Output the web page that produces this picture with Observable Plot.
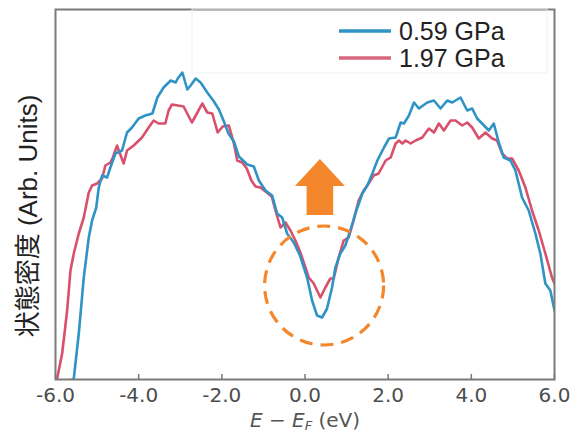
<!DOCTYPE html>
<html><head><meta charset="utf-8">
<script src="https://cdn.jsdelivr.net/npm/d3@7"></script>
<script src="https://cdn.jsdelivr.net/npm/@observablehq/plot@0.6"></script>
<style>body{margin:0;background:#fff}#chart{width:575px;height:433px}</style>
</head><body><div id="chart"></div>
<script>
// Series: 0.59 GPa (blue)
const energyLow = [-5.60,-5.56,-5.44,-5.32,-5.20,-5.12,-5.02,-4.96,-4.88,-4.76,-4.68,-4.56,-4.40,-4.28,-4.16,-4.00,-3.84,-3.67,-3.55,-3.40,-3.23,-3.11,-3.06,-2.95,-2.83,-2.75,-2.63,-2.51,-2.35,-2.19,-2.07,-1.95,-1.84,-1.71,-1.59,-1.39,-1.23,-1.11,-0.95,-0.79,-0.67,-0.55,-0.43,-0.27,-0.12,0.05,0.17,0.29,0.41,0.53,0.65,0.73,0.85,0.97,1.09,1.21,1.38,1.50,1.62,1.74,1.90,2.02,2.18,2.30,2.38,2.50,2.62,2.74,2.94,3.10,3.26,3.42,3.54,3.74,3.90,4.02,4.14,4.26,4.42,4.54,4.66,4.78,4.94,5.06,5.22,5.38,5.54,5.66,5.78,5.90,6.00];
const dosLow = [0,1,46,102,142,159,172,192,204,202,212,226,229,247,252,261,264,266,282,292,299,297,301,307,290,294,301,297,287,278,270,258,246,238,223,215,213,199,189,184,166,162,146,137,124,102,79,64,62,71,92,112,126,134,149,166,186,194,206,219,232,241,242,257,256,264,277,271,277,279,271,279,277,282,269,271,261,256,249,256,237,222,219,209,182,169,146,126,96,89,69];
// Series: 1.97 GPa (red)
const energyHigh = [-5.98,-5.96,-5.84,-5.72,-5.64,-5.56,-5.44,-5.32,-5.20,-5.12,-5.00,-4.88,-4.80,-4.68,-4.62,-4.52,-4.46,-4.36,-4.28,-4.12,-3.92,-3.76,-3.64,-3.52,-3.36,-3.28,-3.20,-2.92,-2.72,-2.60,-2.47,-2.35,-2.23,-2.10,-1.98,-1.83,-1.71,-1.63,-1.51,-1.40,-1.29,-1.19,-1.07,-0.95,-0.80,-0.71,-0.59,-0.47,-0.35,-0.23,-0.11,0.09,0.21,0.37,0.49,0.61,0.69,0.81,0.93,1.05,1.17,1.29,1.41,1.53,1.65,1.77,1.94,2.06,2.18,2.26,2.34,2.42,2.54,2.66,2.82,2.98,3.10,3.22,3.34,3.50,3.62,3.78,3.90,4.02,4.18,4.34,4.50,4.62,4.74,4.86,4.98,5.14,5.30,5.46,5.62,5.78,5.94,6.00];
const dosHigh = [0,1,26,69,109,126,146,162,187,194,196,201,214,217,222,234,227,216,229,234,242,252,259,256,256,269,275,273,257,266,276,267,266,247,253,254,236,219,217,211,199,193,192,188,183,169,152,157,149,139,127,102,96,82,92,101,101,122,139,142,159,179,189,196,204,206,219,222,236,239,236,239,236,239,242,251,247,256,249,259,259,254,257,252,241,247,241,239,226,221,221,209,192,169,149,126,102,96];
const seriesLabels = ["0.59 GPa", "1.97 GPa"];
const seriesColors = ["#2f93c6", "#d8506b"];
const xTicks = [-6, -4, -2, 0, 2, 4, 6];
const xTickLabels = ["-6.0", "-4.0", "-2.0", "0.0", "2.0", "4.0", "6.0"];
const yLabel = "状態密度 (Arb. Units)";
// annotation: dip highlight (eV, arb. units)
const circleCenter = [{x: 0.46, y: 94}];
const arrowShaft = [{x1: 0.05, x2: 0.69, y1: 164, y2: 194}];
const arrowHead = [{x: -0.23, y1: 193, y2: 193}, {x: 0.37, y1: 193, y2: 220}, {x: 0.97, y1: 193, y2: 193}];

const low = energyLow.map((e, i) => ({e, d: dosLow[i]}));
const high = energyHigh.map((e, i) => ({e, d: dosHigh[i]}));
const orange = "#f4872c";

const plot = Plot.plot({
  width: 575, height: 433,
  marginLeft: 55, marginRight: 21, marginTop: 9, marginBottom: 54,
  x: {domain: [-6, 6]},
  y: {domain: [0, 370], axis: null},
  style: {background: "#fff", overflow: "visible"},
  marks: [
    Plot.line(high, {x: "e", y: "d", stroke: seriesColors[1], strokeWidth: 2.6, clip: true}),
    Plot.line(low, {x: "e", y: "d", stroke: seriesColors[0], strokeWidth: 2.6, clip: true}),
    Plot.dot(circleCenter, {x: "x", y: "y", r: 59.5, stroke: orange, strokeWidth: 3.2, strokeDasharray: "13,8", fill: "none"}),
    Plot.rect(arrowShaft, {x1: "x1", x2: "x2", y1: "y1", y2: "y2", fill: orange}),
    Plot.areaY(arrowHead, {x: "x", y1: "y1", y2: "y2", fill: orange}),
    Plot.ruleX(xTicks, {x: d => d, y1: 0, y2: 5, stroke: "#777", strokeWidth: 1.5}),
    Plot.frame({stroke: "#7a7a7a", strokeWidth: 2}),
    Plot.axisX(xTicks, {tickSize: 0, tickPadding: 8, label: null,
      tickFormat: (d, i) => xTickLabels[xTicks.indexOf(d)],
      fontSize: 20, fontFamily: "DejaVu Sans", fill: "#4d4d4d"})
  ]
});
document.getElementById("chart").appendChild(plot);
const svg = d3.select(plot);

// faint box artefact behind legend
svg.append("rect").attr("x", 192).attr("y", 9).attr("width", 355).attr("height", 64)
  .attr("fill", "none").attr("stroke", "#efefef").attr("stroke-width", 1);

// legend
const lg = svg.append("g").attr("font-family", "Liberation Sans, Arial, sans-serif").attr("font-size", 25)
  .attr("fill", "#222").attr("text-anchor", "start");
[31, 58].forEach((yy, i) => {
  lg.append("line").attr("x1", 339).attr("x2", 391).attr("y1", yy).attr("y2", yy)
    .attr("stroke", i === 0 ? seriesColors[0] : "#d7677e").attr("stroke-width", 3.5);
  lg.append("text").attr("x", 399).attr("y", yy).attr("dy", "0.36em").attr("text-anchor", "start").text(seriesLabels[i]);
});

// y label
svg.append("text").attr("transform", "translate(28,216) rotate(-90)")
  .attr("text-anchor", "middle").attr("dy", "0.36em")
  .attr("font-family", "Liberation Sans, Noto Sans CJK JP, sans-serif").attr("font-size", 26).attr("fill", "#222")
  .text(yLabel);

// x label
const xl = svg.append("text").attr("x", 305).attr("y", 427).attr("text-anchor", "middle")
  .attr("font-family", "DejaVu Sans, sans-serif").attr("font-size", 20).attr("fill", "#555");
xl.append("tspan").attr("font-style", "italic").text("E");
xl.append("tspan").text(" − ");
xl.append("tspan").attr("font-style", "italic").text("E");
xl.append("tspan").attr("font-style", "italic").attr("font-size", 13).attr("dy", 3).text("F");
xl.append("tspan").attr("dy", -3).text(" (eV)");
</script></body></html>
